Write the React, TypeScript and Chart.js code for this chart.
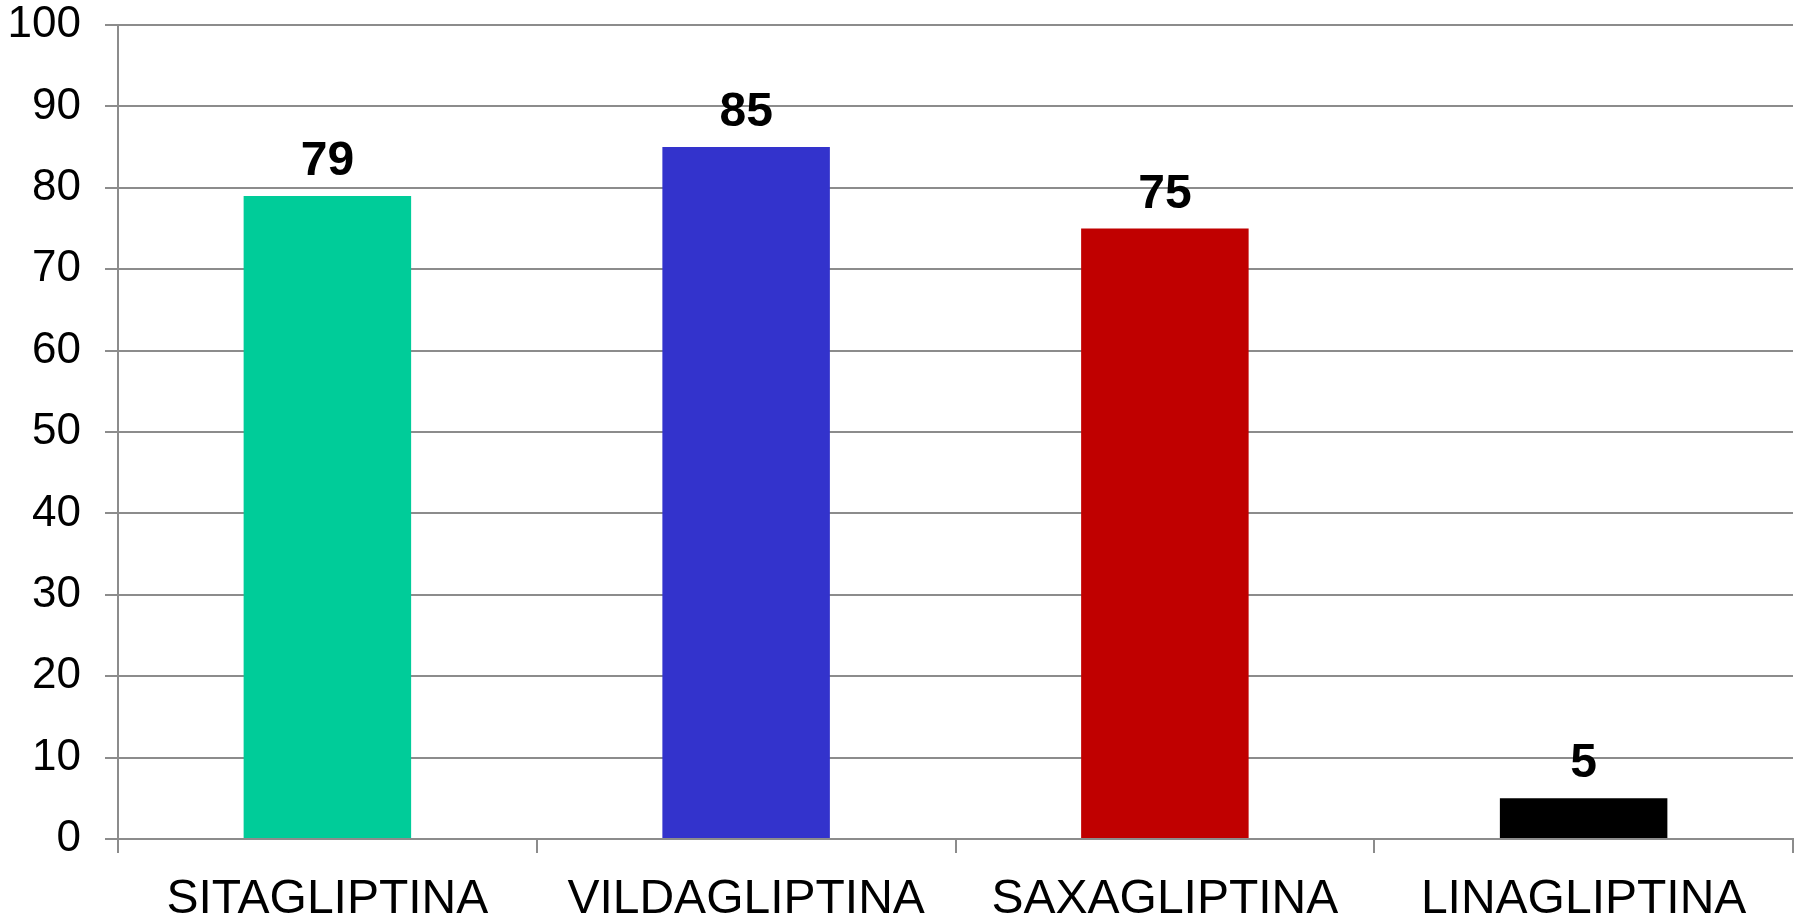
import React, { useEffect, useRef } from "react";
import { Chart, registerables } from "chart.js";

Chart.register(...registerables);

const categories = ["SITAGLIPTINA", "VILDAGLIPTINA", "SAXAGLIPTINA", "LINAGLIPTINA"];
const values = [79, 85, 75, 5];
const barColors = ["#00CC99", "#3333CC", "#C00000", "#000000"];
const yTicks = [0, 10, 20, 30, 40, 50, 60, 70, 80, 90, 100];

const FONT = "'Liberation Sans', Arial, sans-serif";
const GRID = "#8C8C8C";

// Bold value written above each bar
const valueLabels = {
  id: "valueLabels",
  afterDatasetsDraw(chart: any) {
    const { ctx } = chart;
    const meta = chart.getDatasetMeta(0);
    const data = chart.data.datasets[0].data as number[];
    ctx.save();
    ctx.font = `bold 48px ${FONT}`;
    ctx.fillStyle = "#000";
    ctx.textAlign = "center";
    ctx.textBaseline = "alphabetic";
    meta.data.forEach((bar: any, i: number) => {
      ctx.fillText(String(data[i]), bar.x, bar.y - 21);
    });
    ctx.restore();
  },
};

export default function App() {
  const canvasRef = useRef<HTMLCanvasElement | null>(null);

  useEffect(() => {
    if (!canvasRef.current) return;
    const chart = new Chart(canvasRef.current, {
      type: "bar",
      data: {
        labels: categories,
        datasets: [
          {
            data: values,
            backgroundColor: barColors,
            borderWidth: 0,
            barPercentage: 0.4,
            categoryPercentage: 1,
          },
        ],
      },
      options: {
        responsive: false,
        animation: false,
        layout: { padding: { top: 25, right: 10, left: 0, bottom: 0 } },
        plugins: {
          legend: { display: false },
          tooltip: { enabled: false },
        },
        scales: {
          x: {
            offset: true,
            grid: {
              offset: true,
              drawOnChartArea: false,
              drawTicks: true,
              tickLength: 14,
              color: GRID,
              lineWidth: 2,
            },
            border: { display: true, color: GRID, width: 2 },
            ticks: {
              color: "#000",
              font: { family: FONT, size: 48 },
              padding: 18,
              maxRotation: 0,
              autoSkip: false,
            },
            afterFit(scale: any) {
              scale.height = 81;
              scale.paddingLeft = 0;
              scale.paddingRight = 0;
            },
          },
          y: {
            min: 0,
            max: 100,
            afterBuildTicks(scale: any) {
              scale.ticks = yTicks.map((v) => ({ value: v }));
            },
            grid: {
              color: GRID,
              lineWidth: 2,
              tickLength: 13,
              drawTicks: true,
            },
            border: { display: true, color: GRID, width: 2 },
            ticks: {
              color: "#000",
              font: { family: FONT, size: 44 },
              padding: 24,
            },
            afterFit(scale: any) {
              scale.width = 118;
              scale.paddingTop = 0;
              scale.paddingBottom = 0;
            },
          },
        },
      },
      plugins: [valueLabels],
    });
    return () => chart.destroy();
  }, []);

  return (
    <div style={{ position: "absolute", left: 0, top: 0, width: 1803, height: 920, background: "#fff" }}>
      <canvas ref={canvasRef} width={1803} height={920} style={{ display: "block" }} />
    </div>
  );
}
